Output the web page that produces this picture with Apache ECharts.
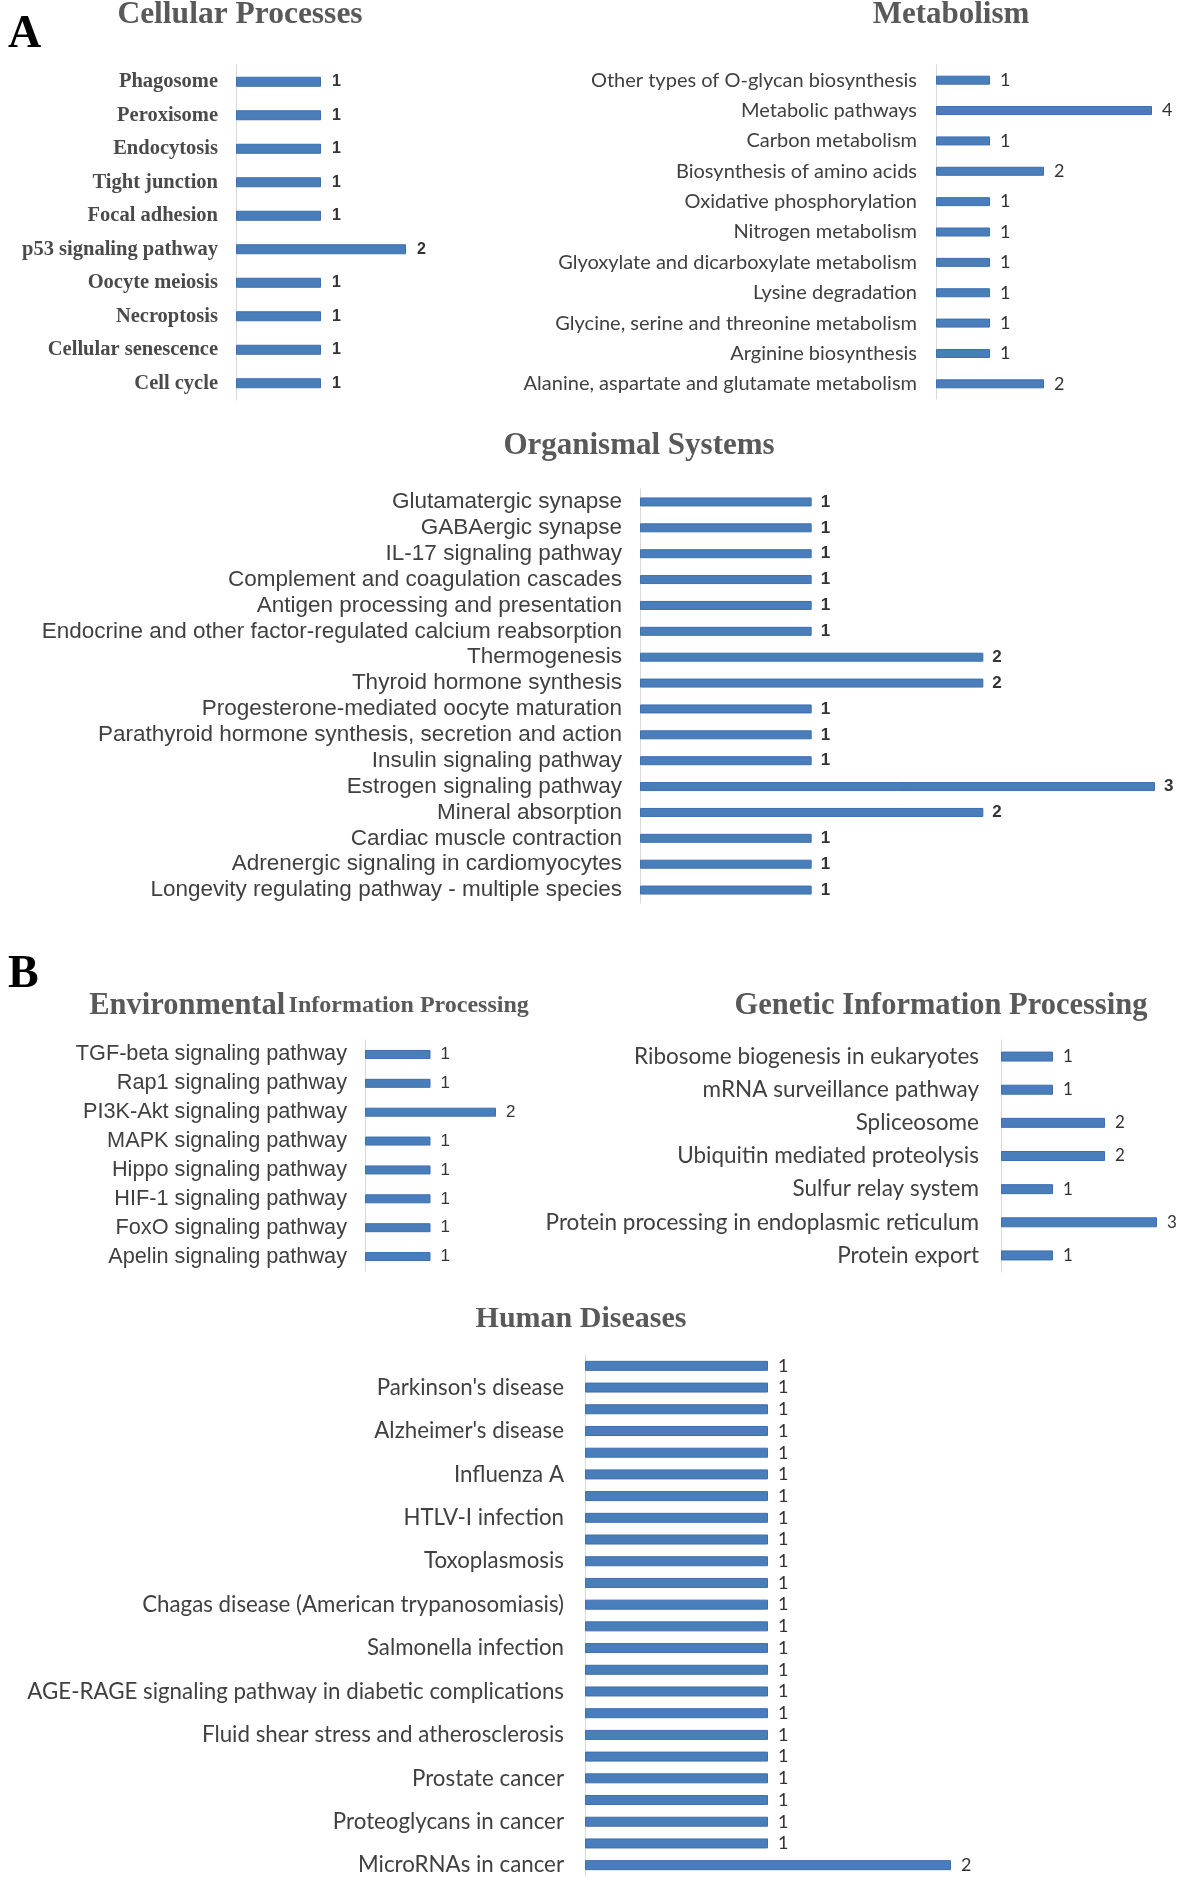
<!DOCTYPE html>
<html>
<head>
<meta charset="utf-8">
<script src="https://cdn.jsdelivr.net/npm/echarts@6/dist/echarts.min.js"></script>
<style>
html,body{margin:0;padding:0;background:#fff;}
#chart{width:1181px;height:1880px;}
</style>
</head>
<body>
<div id="chart"></div>
<script>
// ---------- DATA ----------
var cellCats = ['Phagosome','Peroxisome','Endocytosis','Tight junction','Focal adhesion','p53 signaling pathway','Oocyte meiosis','Necroptosis','Cellular senescence','Cell cycle'];
var cellVals = [1,1,1,1,1,2,1,1,1,1];

var metaCats = ['Other types of O-glycan biosynthesis','Metabolic pathways','Carbon metabolism','Biosynthesis of amino acids','Oxidative phosphorylation','Nitrogen metabolism','Glyoxylate and dicarboxylate metabolism','Lysine degradation','Glycine, serine and threonine metabolism','Arginine biosynthesis','Alanine, aspartate and glutamate metabolism'];
var metaVals = [1,4,1,2,1,1,1,1,1,1,2];

var orgCats = ['Glutamatergic synapse','GABAergic synapse','IL-17 signaling pathway','Complement and coagulation cascades','Antigen processing and presentation','Endocrine and other factor-regulated calcium reabsorption','Thermogenesis','Thyroid hormone synthesis','Progesterone-mediated oocyte maturation','Parathyroid hormone synthesis, secretion and action','Insulin signaling pathway','Estrogen signaling pathway','Mineral absorption','Cardiac muscle contraction','Adrenergic signaling in cardiomyocytes','Longevity regulating pathway - multiple species'];
var orgVals = [1,1,1,1,1,1,2,2,1,1,1,3,2,1,1,1];

var envCats = ['TGF-beta signaling pathway','Rap1 signaling pathway','PI3K-Akt signaling pathway','MAPK signaling pathway','Hippo signaling pathway','HIF-1 signaling pathway','FoxO signaling pathway','Apelin signaling pathway'];
var envVals = [1,1,2,1,1,1,1,1];

var genCats = ['Ribosome biogenesis in eukaryotes','mRNA surveillance pathway','Spliceosome','Ubiquitin mediated proteolysis','Sulfur relay system','Protein processing in endoplasmic reticulum','Protein export'];
var genVals = [1,1,2,2,1,3,1];

// every other category label is hidden in the original figure
var humCats = ['',"Parkinson's disease",'',"Alzheimer's disease",'','Influenza A','','HTLV-I infection','','Toxoplasmosis','','Chagas disease (American trypanosomiasis)','','Salmonella infection','','AGE-RAGE signaling pathway in diabetic complications','','Fluid shear stress and atherosclerosis','','Prostate cancer','','Proteoglycans in cancer','','MicroRNAs in cancer'];
var humVals = [1,1,1,1,1,1,1,1,1,1,1,1,1,1,1,1,1,1,1,1,1,1,1,2];

var panelTitles = ['Cellular Processes','Metabolism','Organismal Systems','Genetic Information Processing','Human Diseases'];

// ---------- CHART ----------
var chart = echarts.init(document.getElementById('chart'), null, {renderer:'canvas'});

var BAR = '#4a7ebb', BARB = '#3d6eae', AXIS = '#d9d9d9';
var panels = [
  {cats:cellCats, vals:cellVals, grid:{left:236, top:65, width:170, height:335}, max:2, bw:10, margin:18,
   lab:{fontFamily:'Liberation Serif', fontWeight:'bold', fontSize:20.5, color:'#4a4a4a'},
   val:{fontFamily:'Liberation Sans', fontWeight:'bold', fontSize:16, color:'#333', distance:11}},
  {cats:metaCats, vals:metaVals, grid:{left:936, top:65, width:216, height:334}, max:4, bw:9, margin:19,
   lab:{fontFamily:'Lato', fontSize:20, color:'#404040'},
   val:{fontFamily:'Lato', fontSize:18, color:'#333', distance:10}},
  {cats:orgCats, vals:orgVals, grid:{left:640, top:489, width:515, height:414}, max:3, bw:9, margin:18,
   lab:{fontFamily:'Liberation Sans', fontSize:22.5, color:'#404040'},
   val:{fontFamily:'Liberation Sans', fontWeight:'bold', fontSize:17, color:'#333', distance:9}},
  {cats:envCats, vals:envVals, grid:{left:365, top:1040, width:131, height:231}, max:2, bw:9, margin:18,
   lab:{fontFamily:'Liberation Sans', fontSize:21.7, color:'#404040'},
   val:{fontFamily:'Liberation Sans', fontSize:17, color:'#333', distance:10}},
  {cats:genCats, vals:genVals, grid:{left:1001, top:1040, width:156, height:232}, max:3, bw:10, margin:22,
   lab:{fontFamily:'Lato', fontSize:22.5, color:'#404040'},
   val:{fontFamily:'Lato', fontSize:17, color:'#333', distance:10}},
  {cats:humCats, vals:humVals, grid:{left:585, top:1355, width:366, height:521}, max:2, bw:10, margin:21,
   lab:{fontFamily:'Lato', fontSize:22.3, color:'#404040'},
   val:{fontFamily:'Lato', fontSize:18, color:'#333', distance:10}, alt:true}
];

var grids=[], xAxes=[], yAxes=[], series=[];
panels.forEach(function(p, i){
  grids.push(Object.assign({containLabel:false}, p.grid));
  xAxes.push({type:'value', gridIndex:i, min:0, max:p.max, show:false, splitLine:{show:false}});
  yAxes.push({type:'category', gridIndex:i, inverse:true, data:p.cats,
    axisLine:{show:true, lineStyle:{color:AXIS, width:1}},
    axisTick:{show:false},
    axisLabel:Object.assign({margin:p.margin, interval: p.alt ? function(idx){return idx % 2 === 1;} : 0}, p.lab)
  });
  series.push({type:'bar', xAxisIndex:i, yAxisIndex:i, data:p.vals, barWidth:p.bw,
    itemStyle:{color:BAR, borderColor:BARB, borderWidth:1},
    label:Object.assign({show:true, position:'right'}, p.val),
    silent:true, animation:false});
});

var titleStyle = {fontFamily:'Liberation Serif', fontWeight:'bold', fill:'#595959', textAlign:'center', textVerticalAlign:'middle'};
function ttl(text, x, y, size){
  return {type:'text', x:x, y:y, style:Object.assign({}, titleStyle, {text:text, fontSize:size})};
}

var option = {
  backgroundColor:'#fff',
  animation:false,
  grid:grids, xAxis:xAxes, yAxis:yAxes, series:series,
  graphic:[
    {type:'text', x:8, y:35, style:{text:'A', fontFamily:'Liberation Serif', fontWeight:'bold', fontSize:46, fill:'#000', textVerticalAlign:'middle'}},
    {type:'text', x:8, y:975, style:{text:'B', fontFamily:'Liberation Serif', fontWeight:'bold', fontSize:46, fill:'#000', textVerticalAlign:'middle'}},
    ttl(panelTitles[0], 240, 15, 31.5),
    ttl(panelTitles[1], 951, 15, 31),
    ttl(panelTitles[2], 639, 446, 31),
    {type:'text', x:309, y:1006, style:{text:'{a|Environmental} {b|Information Processing}', textAlign:'center', textVerticalAlign:'middle',
      rich:{a:{fontFamily:'Liberation Serif', fontWeight:'bold', fontSize:30.5, fill:'#595959', color:'#595959'},
            b:{fontFamily:'Liberation Serif', fontWeight:'bold', fontSize:24, fill:'#595959', color:'#595959'}}}},
    ttl(panelTitles[3], 941, 1006, 30.5),
    ttl(panelTitles[4], 581, 1319, 30)
  ]
};
chart.setOption(option);
</script>
</body>
</html>
